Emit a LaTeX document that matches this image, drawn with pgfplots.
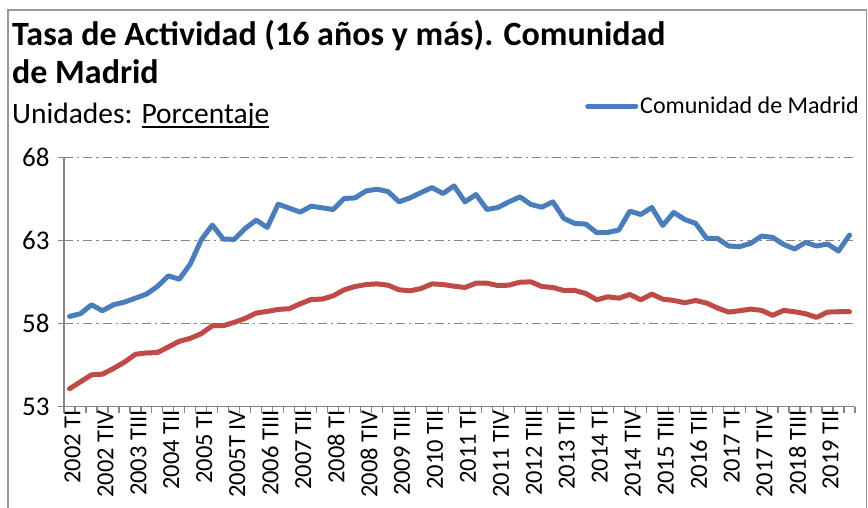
\documentclass[border=0pt]{standalone}
\usepackage{fontspec}
\setmainfont{Carlito}
\usepackage{pgfplots}
\pgfplotsset{compat=1.18}
\usetikzlibrary{calc}
\definecolor{exblue}{HTML}{4A7EBB}
\definecolor{exred}{HTML}{BE4B48}
\definecolor{exgray}{HTML}{868686}
\newcommand\myul[1]{\setbox0\hbox{#1}\rlap{\rule[-4.5pt]{\wd0}{2pt}}\box0}
\begin{document}
\begin{tikzpicture}[x=1pt,y=1pt]
\begin{axis}[
  name=ax,
  scale only axis, width=791pt, height=249pt,
  xmin=-0.5, xmax=71.5, ymin=53, ymax=68,
  axis x line=bottom, axis y line=left,
  axis line style={exgray, line width=1.5pt, -},
  xtick={-0.5,0.5,...,71.5}, xticklabels={},
  major tick length=6pt, tick align=outside,
  tick style={exgray, line width=1.2pt},
  extra x ticks={0,3,...,69},
  extra x tick labels={2002 TI,2002 TIV,2003 TIII,2004 TII,2005 TI,2005T IV,2006 TIII,2007 TII,2008 TI,2008 TIV,2009 TIII,2010 TII,2011 TI,2011 TIV,2012 TIII,2013 TII,2014 TI,2014 TIV,2015 TIII,2016 TII,2017 TI,2017 TIV,2018 TIII,2019 TII},
  extra x tick style={major tick length=0pt, tick label style={rotate=90, anchor=east, font=\fontsize{24.5}{28}\selectfont, yshift=-3pt}},
  ytick={53,58,63,68},
  yticklabel style={font=\fontsize{27}{30}\selectfont, xshift=-5pt},
  /pgf/number format/assume math mode=true,
  ymajorgrids,
  grid style={exgray, line width=1.5pt, dash pattern=on 9pt off 4pt on 2.5pt off 4pt},
  legend style={at={(0.6587,1.2076)}, anchor=west, draw=none, fill=none, inner sep=0pt, font=\fontsize{24}{28}\selectfont},
  legend image code/.code={\draw[#1, line width=5pt, line cap=round] (0pt,0pt) -- (48pt,0pt);},
  legend cell align=left,
]
\coordinate (O) at (rel axis cs:0,0);
\addplot[exblue, line width=5pt, line join=round, line cap=round] coordinates {
(0,58.44)(1,58.6)(2,59.14)(3,58.78)(4,59.14)(5,59.3)(6,59.54)(7,59.78)(8,60.24)(9,60.88)
(10,60.68)(11,61.6)(12,63.06)(13,63.94)(14,63.1)(15,63.08)(16,63.74)(17,64.24)(18,63.8)(19,65.2)
(20,64.96)(21,64.72)(22,65.08)(23,64.98)(24,64.88)(25,65.54)(26,65.58)(27,66.0)(28,66.1)(29,65.96)
(30,65.34)(31,65.58)(32,65.9)(33,66.2)(34,65.84)(35,66.3)(36,65.34)(37,65.78)(38,64.88)(39,65.0)
(40,65.34)(41,65.64)(42,65.18)(43,65.02)(44,65.34)(45,64.34)(46,64.04)(47,64.0)(48,63.48)(49,63.5)
(50,63.64)(51,64.78)(52,64.58)(53,65.0)(54,63.92)(55,64.7)(56,64.28)(57,64.04)(58,63.14)(59,63.13)
(60,62.68)(61,62.64)(62,62.84)(63,63.28)(64,63.2)(65,62.78)(66,62.5)(67,62.9)(68,62.68)(69,62.8)
(70,62.38)(71,63.34)};
\addlegendentry{Comunidad de Madrid}
\addplot[exred, line width=5pt, line join=round, line cap=round, forget plot] coordinates {
(0,54.08)(1,54.5)(2,54.92)(3,54.96)(4,55.3)(5,55.68)(6,56.16)(7,56.24)(8,56.26)(9,56.6)
(10,56.94)(11,57.12)(12,57.4)(13,57.88)(14,57.88)(15,58.08)(16,58.32)(17,58.64)(18,58.74)(19,58.86)
(20,58.9)(21,59.2)(22,59.46)(23,59.48)(24,59.68)(25,60.04)(26,60.24)(27,60.36)(28,60.4)(29,60.32)
(30,60.04)(31,59.98)(32,60.12)(33,60.4)(34,60.36)(35,60.26)(36,60.18)(37,60.44)(38,60.44)(39,60.3)
(40,60.32)(41,60.5)(42,60.52)(43,60.24)(44,60.18)(45,60.0)(46,60.0)(47,59.82)(48,59.44)(49,59.62)
(50,59.54)(51,59.76)(52,59.44)(53,59.78)(54,59.48)(55,59.4)(56,59.26)(57,59.4)(58,59.24)(59,58.94)
(60,58.7)(61,58.78)(62,58.88)(63,58.8)(64,58.5)(65,58.8)(66,58.72)(67,58.6)(68,58.38)(69,58.7)
(70,58.72)(71,58.72)};
\end{axis}
\begin{scope}[shift={($(O)+(-64,-101.3)$)}]
\draw[exgray!85, line width=1.5pt] (8,0) -- (8,498) -- (866.5,498) -- (866.5,0);
\node[anchor=base west, inner sep=0pt, font=\fontsize{34}{40}\selectfont\bfseries] at (12,508-46) {Tasa de Actividad (16 años y más). Comunidad};
\node[anchor=base west, inner sep=0pt, font=\fontsize{34}{40}\selectfont\bfseries] at (12,508-84) {de Madrid};
\node[anchor=base west, inner sep=0pt, font=\fontsize{29.5}{34}\selectfont] at (12,508-124) {Unidades: \myul{Porcentaje}};
\pgfresetboundingbox
\path[use as bounding box] (0,0) rectangle (868,508);
\end{scope}
\end{tikzpicture}
\end{document}
